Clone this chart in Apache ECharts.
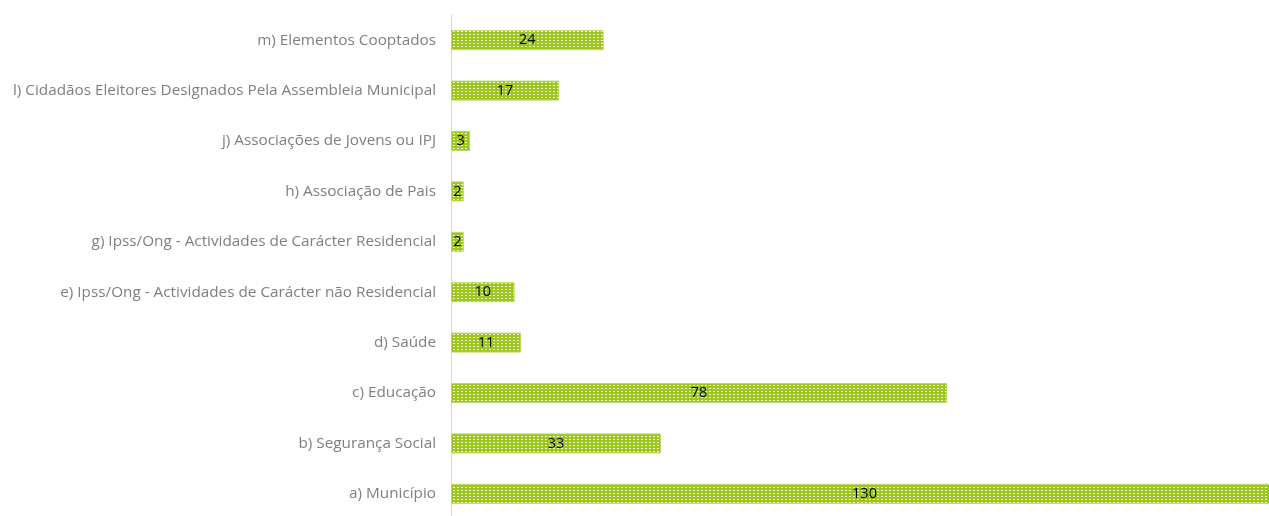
<!DOCTYPE html>
<html><head><meta charset="utf-8">
<script src="https://cdn.jsdelivr.net/npm/echarts@6/dist/echarts.min.js"></script>
<style>html,body{margin:0;padding:0;background:#fff}#c{width:1269px;height:516px}</style>
</head><body><div id="c"></div>
<script>
const categories = ["a) Município","b) Segurança Social","c) Educação","d) Saúde","e) Ipss/Ong - Actividades de Carácter não Residencial","g) Ipss/Ong - Actividades de Carácter Residencial","h) Associação de Pais","j) Associações de Jovens ou IPJ","l) Cidadãos Eleitores Designados Pela Assembleia Municipal","m) Elementos Cooptados"];
const values = [130,33,78,11,10,2,2,3,17,24];

function makePattern(){
  const c = document.createElement('canvas');
  c.width = 4; c.height = 3;
  const g = c.getContext('2d');
  g.fillStyle = '#9dc621'; g.fillRect(0,0,4,3);
  g.fillStyle = '#ffffff'; g.fillRect(1,1,1,1);
  g.fillStyle = '#eef6d4'; g.fillRect(2,1,1,1);
  return c;
}
const chart = echarts.init(document.getElementById('c'));
chart.setOption({
  animation:false,
  grid:{left:451,top:15,width:827,height:504,containLabel:false,outerBoundsMode:'none'},
  xAxis:{type:'value',min:0,max:130,show:false},
  yAxis:{type:'category',data:categories,
    axisLine:{lineStyle:{color:'#d9d9d9'}},
    axisTick:{length:5,lineStyle:{color:'#d9d9d9'}},
    axisLabel:{color:'#7f7f7f',fontSize:15.3,fontFamily:'Open Sans',margin:15,padding:[2,0,0,0]}},
  series:[{type:'bar',data:values,barWidth:20,clip:false,
    itemStyle:{color:{image:makePattern(),repeat:'repeat'},borderColor:'#b8d863',borderWidth:1},
    label:{show:true,position:'inside',color:'#000',fontSize:14.5,fontFamily:'Open Sans',padding:[2,0,0,0]}}]
});
</script></body></html>
